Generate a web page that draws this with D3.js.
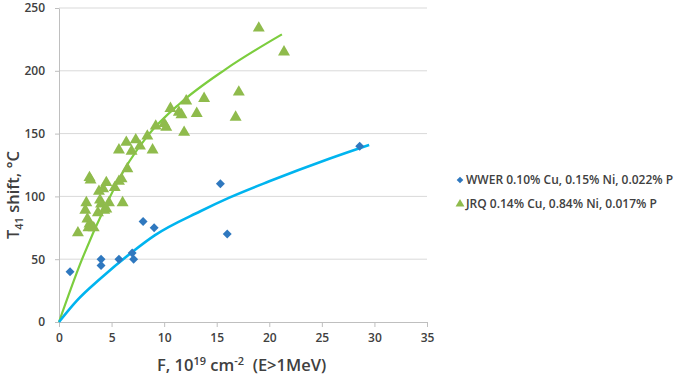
<!DOCTYPE html>
<html>
<head>
<meta charset="utf-8">
<script src="https://cdn.jsdelivr.net/npm/d3@7"></script>
<style>
  body { margin: 0; background: #fff; }
  svg text { font-family: "Open Sans", sans-serif; fill: #404040; }
  .axis .domain { stroke: #bfbfbf; }
  .axis .tick line { stroke: #bfbfbf; }
  .axis .tick text { font-size: 12px; font-weight: 600; }
  .grid line { stroke: #d9d9d9; }
  .axis-label { font-size: 16.5px; font-weight: 600; }
  .legend-ui { font-size: 12px; font-weight: 600; }
</style>
</head>
<body>
<svg id="chart" width="678" height="376"></svg>
<script>
// WWER points (fluence 1e19 cm-2, T41 shift °C)
const wwerF = [1.05, 4.0, 4.0, 5.7, 6.96, 7.1, 8.0, 9.05, 15.35, 16.0, 28.6];
const wwerT = [40, 50, 45, 50, 55, 50, 80, 75, 110, 70, 140];

// JRQ points
const jrqF = [1.8, 2.6, 2.5, 2.7, 2.9, 2.8, 3.3, 3.1, 2.9, 3.0, 3.7, 3.9, 3.8, 4.2, 4.0,
  4.3, 4.5, 4.75, 4.5, 5.3, 5.7, 6.05, 5.95, 6.5, 5.7, 6.4, 6.9, 7.3, 7.7, 8.4,
  8.9, 9.2, 10.0, 10.2, 10.6, 11.4, 11.65, 11.9, 12.1, 13.1, 13.8, 16.8, 17.1, 19.0, 21.4];
const jrqT = [71, 95, 89, 82, 78, 75, 75, 76, 115, 113, 87, 97, 104, 106, 94,
  89, 90, 95, 111, 107, 112, 95, 114, 122, 137, 143, 136, 145, 140, 148,
  137, 156, 158, 155, 170, 167, 165, 151, 176, 166, 178, 163, 183, 234, 215];

// fitted trend curves
const wwerFitF = [0, 1.7, 4, 7, 9.1, 13.4, 16.2, 20, 25.7, 29.5];
const wwerFitT = [0, 17, 35, 56, 69, 88, 99, 112, 130, 141];
const jrqFitF = [0, 2.1, 4.4, 6.7, 8.5, 11.5, 15.8, 21.2];
const jrqFitT = [0, 48, 92, 128, 149, 174, 201, 229];

const xTicks = [0, 5, 10, 15, 20, 25, 30, 35];
const yTicks = [0, 50, 100, 150, 200, 250];

const legendLabels = ["WWER 0.10% Cu, 0.15% Ni, 0.022% P", "JRQ 0.14% Cu, 0.84% Ni, 0.017% P"];

const colors = { wwer: "#2f78bf", wwerLine: "#00b4ef", jrq: "#8fbb4c", jrqLine: "#7ccd3e" };

const margin = { left: 59, top: 8 },
  innerW = 368, innerH = 314;

const zip = (a, b) => a.map((v, i) => [v, b[i]]);

const svg = d3.select("#chart");
const g = svg.append("g").attr("transform", `translate(${margin.left},${margin.top})`);

const x = d3.scaleLinear().domain([0, 35]).range([0, innerW]);
const y = d3.scaleLinear().domain([0, 250]).range([innerH, 0]);

// horizontal gridlines
g.append("g").attr("class", "grid")
  .selectAll("line")
  .data(yTicks.filter(d => d > 0))
  .join("line")
  .attr("x1", 0).attr("x2", innerW)
  .attr("y1", d => y(d)).attr("y2", d => y(d));

const xAxis = g.append("g").attr("class", "axis axis-x")
  .attr("transform", `translate(0,${innerH})`)
  .call(d3.axisBottom(x).tickValues(xTicks).tickSizeInner(5).tickSizeOuter(0).tickPadding(6));

const yAxis = g.append("g").attr("class", "axis axis-y")
  .call(d3.axisLeft(y).tickValues(yTicks).tickSizeInner(4).tickSizeOuter(0).tickPadding(10));

// trend lines
const line = d3.line().x(d => x(d[0])).y(d => y(d[1])).curve(d3.curveMonotoneX);

g.append("path")
  .datum(zip(jrqFitF, jrqFitT))
  .attr("fill", "none").attr("stroke", colors.jrqLine).attr("stroke-width", 2.2)
  .attr("d", line);

g.append("path")
  .datum(zip(wwerFitF, wwerFitT))
  .attr("fill", "none").attr("stroke", colors.wwerLine).attr("stroke-width", 2.6)
  .attr("d", line);

// markers
const diamond = d3.symbol().type(d3.symbolSquare).size(40);
const triangle = d3.symbol().type(d3.symbolTriangle).size(62);

g.append("g").selectAll("path")
  .data(zip(wwerF, wwerT))
  .join("path")
  .attr("d", diamond)
  .attr("transform", d => `translate(${x(d[0])},${y(d[1])}) rotate(45)`)
  .attr("fill", colors.wwer);

g.append("g").selectAll("path")
  .data(zip(jrqF, jrqT))
  .join("path")
  .attr("d", triangle)
  .attr("transform", d => `translate(${x(d[0])},${y(d[1])})`)
  .attr("fill", colors.jrq);

// axis titles
const xLabel = svg.append("text")
  .attr("class", "axis-label")
  .attr("x", 157).attr("y", 371);
xLabel.append("tspan").text("F, 10");
xLabel.append("tspan").attr("dy", -6).attr("font-size", 11).text("19");
xLabel.append("tspan").attr("dy", 6).text(" cm");
xLabel.append("tspan").attr("dy", -6).attr("font-size", 11).text("-2");
xLabel.append("tspan").attr("dy", 6).attr("xml:space", "preserve").text("  (E>1MeV)");

const yLabel = svg.append("text")
  .attr("class", "axis-label")
  .attr("transform", "translate(19,195) rotate(-90)")
  .attr("text-anchor", "middle");
yLabel.append("tspan").text("T");
yLabel.append("tspan").attr("dy", 4).attr("font-size", 11).text("41");
yLabel.append("tspan").attr("dy", -4).text(" shift, °C");

// legend
const legend = svg.append("g").attr("transform", "translate(460,0)");
const legendY = [180, 204];

legend.append("path")
  .attr("d", d3.symbol().type(d3.symbolSquare).size(22))
  .attr("transform", `translate(0,${legendY[0]}) rotate(45)`)
  .attr("fill", colors.wwer);
legend.append("path")
  .attr("d", d3.symbol().type(d3.symbolTriangle).size(34))
  .attr("transform", `translate(0,${legendY[1]})`)
  .attr("fill", colors.jrq);

legend.selectAll(".legend-ui")
  .data(legendLabels)
  .join("text")
  .attr("class", "legend-ui")
  .attr("x", 6)
  .attr("y", (d, i) => legendY[i])
  .attr("dy", "0.35em")
  .text(d => d);
</script>
</body>
</html>
